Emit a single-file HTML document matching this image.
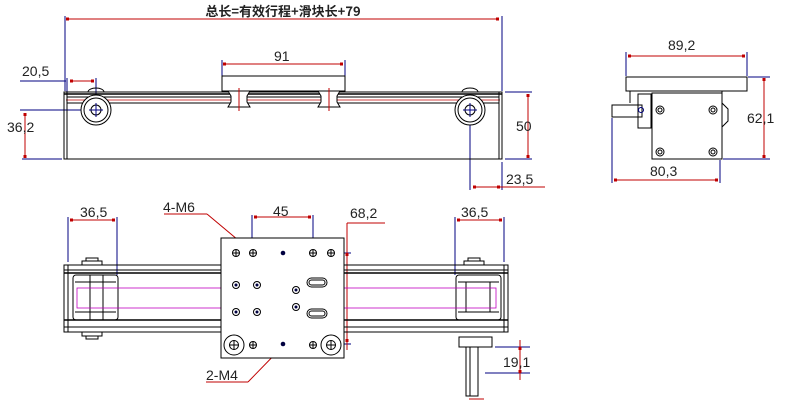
<!DOCTYPE html>
<html><head><meta charset="utf-8"><style>
html,body{margin:0;padding:0;background:#fff;width:797px;height:409px;overflow:hidden}
svg text{font-family:"Liberation Sans","Noto Sans CJK SC",sans-serif;fill:#222}
</style></head><body>
<svg width="797" height="409" viewBox="0 0 797 409" xmlns="http://www.w3.org/2000/svg">
<g fill="none" stroke-width="1">
<!-- ===== TOP VIEW ===== -->
<text x="283" y="16" font-size="13" font-weight="bold" text-anchor="middle" style="font-family:'Noto Sans CJK SC',sans-serif">总长=有效行程+滑块长+79</text>
<g stroke="#000080">
<line x1="65" y1="16" x2="65" y2="91"/><line x1="502" y1="16" x2="502" y2="91"/>
<line x1="20" y1="81" x2="66" y2="81"/><line x1="96" y1="78" x2="96" y2="96"/>
<line x1="20" y1="110" x2="96" y2="110"/><line x1="22" y1="159" x2="62" y2="159"/>
<line x1="505" y1="92" x2="532" y2="92"/><line x1="505" y1="159" x2="532" y2="159"/>
<line x1="470" y1="110" x2="470" y2="190"/><line x1="502" y1="162" x2="502" y2="190"/>
<line x1="222" y1="60" x2="222" y2="76"/><line x1="345" y1="60" x2="345" y2="76"/>
<line x1="67" y1="78" x2="67" y2="92"/>
</g>
<g stroke="#c00000">
<line x1="68" y1="19" x2="499" y2="19"/>
<line x1="224" y1="64" x2="343" y2="64"/>
<line x1="70" y1="81" x2="93" y2="81"/>
<line x1="25" y1="113" x2="25" y2="158"/>
<line x1="528" y1="94" x2="528" y2="157"/>
<line x1="473" y1="187" x2="545" y2="187"/>
<line x1="66" y1="100" x2="500" y2="100" stroke-width="0.8"/>
</g>
<g fill="#c00000">
<rect x="66" y="17.5" width="3" height="3"/><rect x="496" y="17.5" width="3" height="3"/>
<rect x="223" y="62.5" width="3" height="3"/><rect x="340" y="62.5" width="3" height="3"/>
<rect x="70" y="79.5" width="3" height="3"/><rect x="91" y="79.5" width="3" height="3"/>
<rect x="23.5" y="113" width="3" height="3"/><rect x="23.5" y="155" width="3" height="3"/>
<rect x="526.5" y="94" width="3" height="3"/><rect x="526.5" y="155" width="3" height="3"/>
<rect x="473" y="185.5" width="3" height="3"/><rect x="497" y="185.5" width="3" height="3"/>
</g>
<text x="274" y="61" font-size="14">91</text>
<text x="22" y="76" font-size="14">20,5</text>
<text x="7" y="132" font-size="14">36,2</text>
<text x="516" y="131" font-size="14">50</text>
<text x="506" y="184" font-size="14">23,5</text>
<g stroke="#000">
<rect x="64" y="92" width="438" height="67"/>
<line x1="67" y1="92" x2="67" y2="159"/><line x1="499" y1="92" x2="499" y2="159"/>
<line x1="64" y1="94" x2="502" y2="94" stroke-width="1.5"/>
<line x1="67" y1="97" x2="499" y2="97"/>
<line x1="67" y1="103" x2="499" y2="103"/>
<rect x="222" y="76" width="123" height="15"/>
<path d="M228 91 h22 l-3 5 v6 l3 5 h-22 l3 -5 v-6 z" fill="#fff"/>
<path d="M318 91 h22 l-3 5 v6 l3 5 h-22 l3 -5 v-6 z" fill="#fff"/>
<circle cx="96" cy="110" r="15" fill="#fff"/><circle cx="96" cy="110" r="12"/><circle cx="96" cy="110" r="5"/>
<circle cx="470" cy="110" r="15" fill="#fff"/><circle cx="470" cy="110" r="12"/><circle cx="470" cy="110" r="5"/>
<path d="M88 92 a8 4 0 0 1 16 0"/><path d="M462 92 a8 4 0 0 1 16 0"/>
</g>
<g stroke="#c00000"><line x1="239" y1="88" x2="239" y2="111"/><line x1="329" y1="88" x2="329" y2="111"/></g>
<g stroke="#000080"><line x1="96" y1="103" x2="96" y2="117"/><line x1="89" y1="110" x2="103" y2="110"/><line x1="470" y1="103" x2="470" y2="117"/><line x1="463" y1="110" x2="477" y2="110"/></g>

<!-- ===== SIDE VIEW ===== -->
<g stroke="#000080">
<line x1="626" y1="52" x2="626" y2="76"/><line x1="747" y1="52" x2="747" y2="76"/>
<line x1="748" y1="77" x2="770" y2="77"/><line x1="723" y1="159" x2="770" y2="159"/>
<line x1="612" y1="118" x2="612" y2="183"/><line x1="720" y1="160" x2="720" y2="183"/>
</g>
<g stroke="#c00000">
<line x1="628" y1="56" x2="745" y2="56"/>
<line x1="764" y1="79" x2="764" y2="157"/>
<line x1="614" y1="180" x2="718" y2="180"/>
</g>
<g fill="#c00000">
<rect x="628" y="54.5" width="3" height="3"/><rect x="742" y="54.5" width="3" height="3"/>
<rect x="762.5" y="78" width="3" height="3"/><rect x="762.5" y="155" width="3" height="3"/>
<rect x="614" y="178.5" width="3" height="3"/><rect x="715" y="178.5" width="3" height="3"/>
</g>
<text x="668" y="50" font-size="14">89,2</text>
<text x="747" y="123" font-size="14">62,1</text>
<text x="650" y="176" font-size="14">80,3</text>
<g stroke="#000">
<rect x="626" y="77" width="121" height="14"/>
<rect x="652" y="93" width="70" height="66"/>
<rect x="612" y="105" width="30" height="12"/>
<rect x="638" y="94" width="13" height="34"/>
<path d="M630 91 v12 M722 91 v12 l6 6 v12 l-6 6"/>
<circle cx="660" cy="110" r="4"/><circle cx="660" cy="110" r="2"/>
<circle cx="713" cy="110" r="4"/><circle cx="713" cy="110" r="2"/>
<circle cx="660" cy="152" r="4"/><circle cx="660" cy="152" r="2"/>
<circle cx="713" cy="152" r="4"/><circle cx="713" cy="152" r="2"/>
<circle cx="641" cy="110" r="2.5" stroke="#000080"/>
</g>

<!-- ===== BOTTOM VIEW ===== -->
<g stroke="#000080">
<line x1="68" y1="217" x2="68" y2="262"/><line x1="117" y1="217" x2="117" y2="275"/>
<line x1="455" y1="217" x2="455" y2="275"/><line x1="504" y1="217" x2="504" y2="262"/>
<line x1="252" y1="215" x2="252" y2="252"/><line x1="313" y1="215" x2="313" y2="252"/>
<line x1="313" y1="253" x2="351" y2="253"/><line x1="310" y1="344" x2="351" y2="344"/>
<line x1="495" y1="347" x2="530" y2="347"/><line x1="485" y1="373" x2="530" y2="373"/>
</g>
<g stroke="#c00000">
<line x1="70" y1="220" x2="115" y2="220"/>
<line x1="457" y1="220" x2="502" y2="220"/>
<line x1="254" y1="217" x2="311" y2="217"/>
<line x1="347" y1="223" x2="385" y2="223"/>
<line x1="347" y1="223" x2="347" y2="350"/>
<line x1="520" y1="340" x2="520" y2="380"/>
<line x1="164" y1="214" x2="207" y2="214"/>
<line x1="207" y1="214" x2="250" y2="250"/>
<line x1="206" y1="382" x2="248" y2="382"/>
<line x1="248" y1="382" x2="283" y2="346"/>
<line x1="469" y1="399" x2="484" y2="399"/>
</g>
<g fill="#c00000">
<rect x="70" y="218.5" width="3" height="3"/><rect x="112" y="218.5" width="3" height="3"/>
<rect x="457" y="218.5" width="3" height="3"/><rect x="499" y="218.5" width="3" height="3"/>
<rect x="254" y="215.5" width="3" height="3"/><rect x="308" y="215.5" width="3" height="3"/>
<rect x="345.5" y="253" width="3" height="3"/><rect x="345.5" y="339" width="3" height="3"/>
<rect x="518.5" y="347" width="3" height="3"/><rect x="518.5" y="370" width="3" height="3"/>
</g>
<text x="80" y="217" font-size="14">36,5</text>
<text x="461" y="217" font-size="14">36,5</text>
<text x="273" y="216" font-size="14">45</text>
<text x="350" y="218" font-size="14">68,2</text>
<text x="163" y="212" font-size="14">4-M6</text>
<text x="206" y="380" font-size="14">2-M4</text>
<text x="503" y="367" font-size="14">19,1</text>
<g stroke="#000">
<rect x="64" y="265" width="444" height="67"/>
<line x1="64" y1="270" x2="508" y2="270"/><line x1="64" y1="273" x2="508" y2="273" stroke-width="1.5"/>
<line x1="64" y1="320" x2="508" y2="320" stroke-width="1.5"/><line x1="64" y1="327" x2="508" y2="327"/>
<line x1="68" y1="265" x2="68" y2="332"/><line x1="504" y1="265" x2="504" y2="332"/>
<rect x="73" y="275" width="45" height="45" rx="3"/>
<rect x="456" y="275" width="45" height="45" rx="3"/>
<line x1="75" y1="282" x2="116" y2="282"/><line x1="75" y1="312" x2="116" y2="312"/>
<line x1="458" y1="282" x2="499" y2="282"/><line x1="458" y1="312" x2="499" y2="312"/>
<line x1="90" y1="275" x2="90" y2="320"/><line x1="103" y1="275" x2="103" y2="320"/>
<line x1="466" y1="282" x2="466" y2="312"/><line x1="490" y1="282" x2="490" y2="312"/>
<path d="M82 265 v-4 h20 v4 M86 261 v-3 h12 v3"/>
<path d="M464 265 v-4 h20 v4 M468 261 v-3 h12 v3"/>
<path d="M82 332 v4 h20 v-4 M86 336 v3 h12 v-3"/>
<rect x="459" y="337" width="33" height="10"/>
<rect x="466" y="347" width="12" height="49"/>
<line x1="470" y1="347" x2="470" y2="396"/>
</g>
<g stroke="#c000c0" stroke-width="0.8">
<rect x="77" y="288" width="419" height="20"/>
</g>
<rect x="221" y="238" width="123" height="120" fill="#fff" stroke="#000"/>
<g stroke="#000">
<circle cx="236" cy="253" r="3.5"/><circle cx="253" cy="253" r="3.5"/><circle cx="313" cy="253" r="3.5"/><circle cx="331" cy="253" r="3.5"/>
<circle cx="236" cy="285" r="3.5"/><circle cx="257" cy="285" r="3.5"/><circle cx="296" cy="290" r="3.5"/>
<circle cx="236" cy="312" r="3.5"/><circle cx="257" cy="312" r="3.5"/><circle cx="296" cy="307" r="3.5"/>
<rect x="307" y="278" width="20" height="9" rx="4.5"/><rect x="309" y="280" width="16" height="5" rx="2.5"/>
<rect x="307" y="309" width="20" height="9" rx="4.5"/><rect x="309" y="311" width="16" height="5" rx="2.5"/>
<circle cx="234" cy="345" r="10"/><circle cx="234" cy="345" r="4.5"/>
<circle cx="331" cy="345" r="10"/><circle cx="331" cy="345" r="4.5"/>
<circle cx="253" cy="345" r="3.5"/><circle cx="313" cy="345" r="3.5"/>
<path d="M232.5 253 h7 M236 249.5 v7 M249.5 253 h7 M253 249.5 v7 M309.5 253 h7 M313 249.5 v7 M327.5 253 h7 M331 249.5 v7 M229 345 h10 M234 340 v10 M326 345 h10 M331 340 v10 M249.5 345 h7 M253 341.5 v7 M309.5 345 h7 M313 341.5 v7"/>
</g>
<g fill="#000040"><circle cx="283" cy="253" r="2.3"/><circle cx="283" cy="344" r="2.3"/>
<circle cx="236" cy="285" r="1.5"/><circle cx="257" cy="285" r="1.5"/><circle cx="296" cy="290" r="1.5"/>
<circle cx="236" cy="312" r="1.5"/><circle cx="257" cy="312" r="1.5"/><circle cx="296" cy="307" r="1.5"/></g>
</g>
</svg>
</body></html>
